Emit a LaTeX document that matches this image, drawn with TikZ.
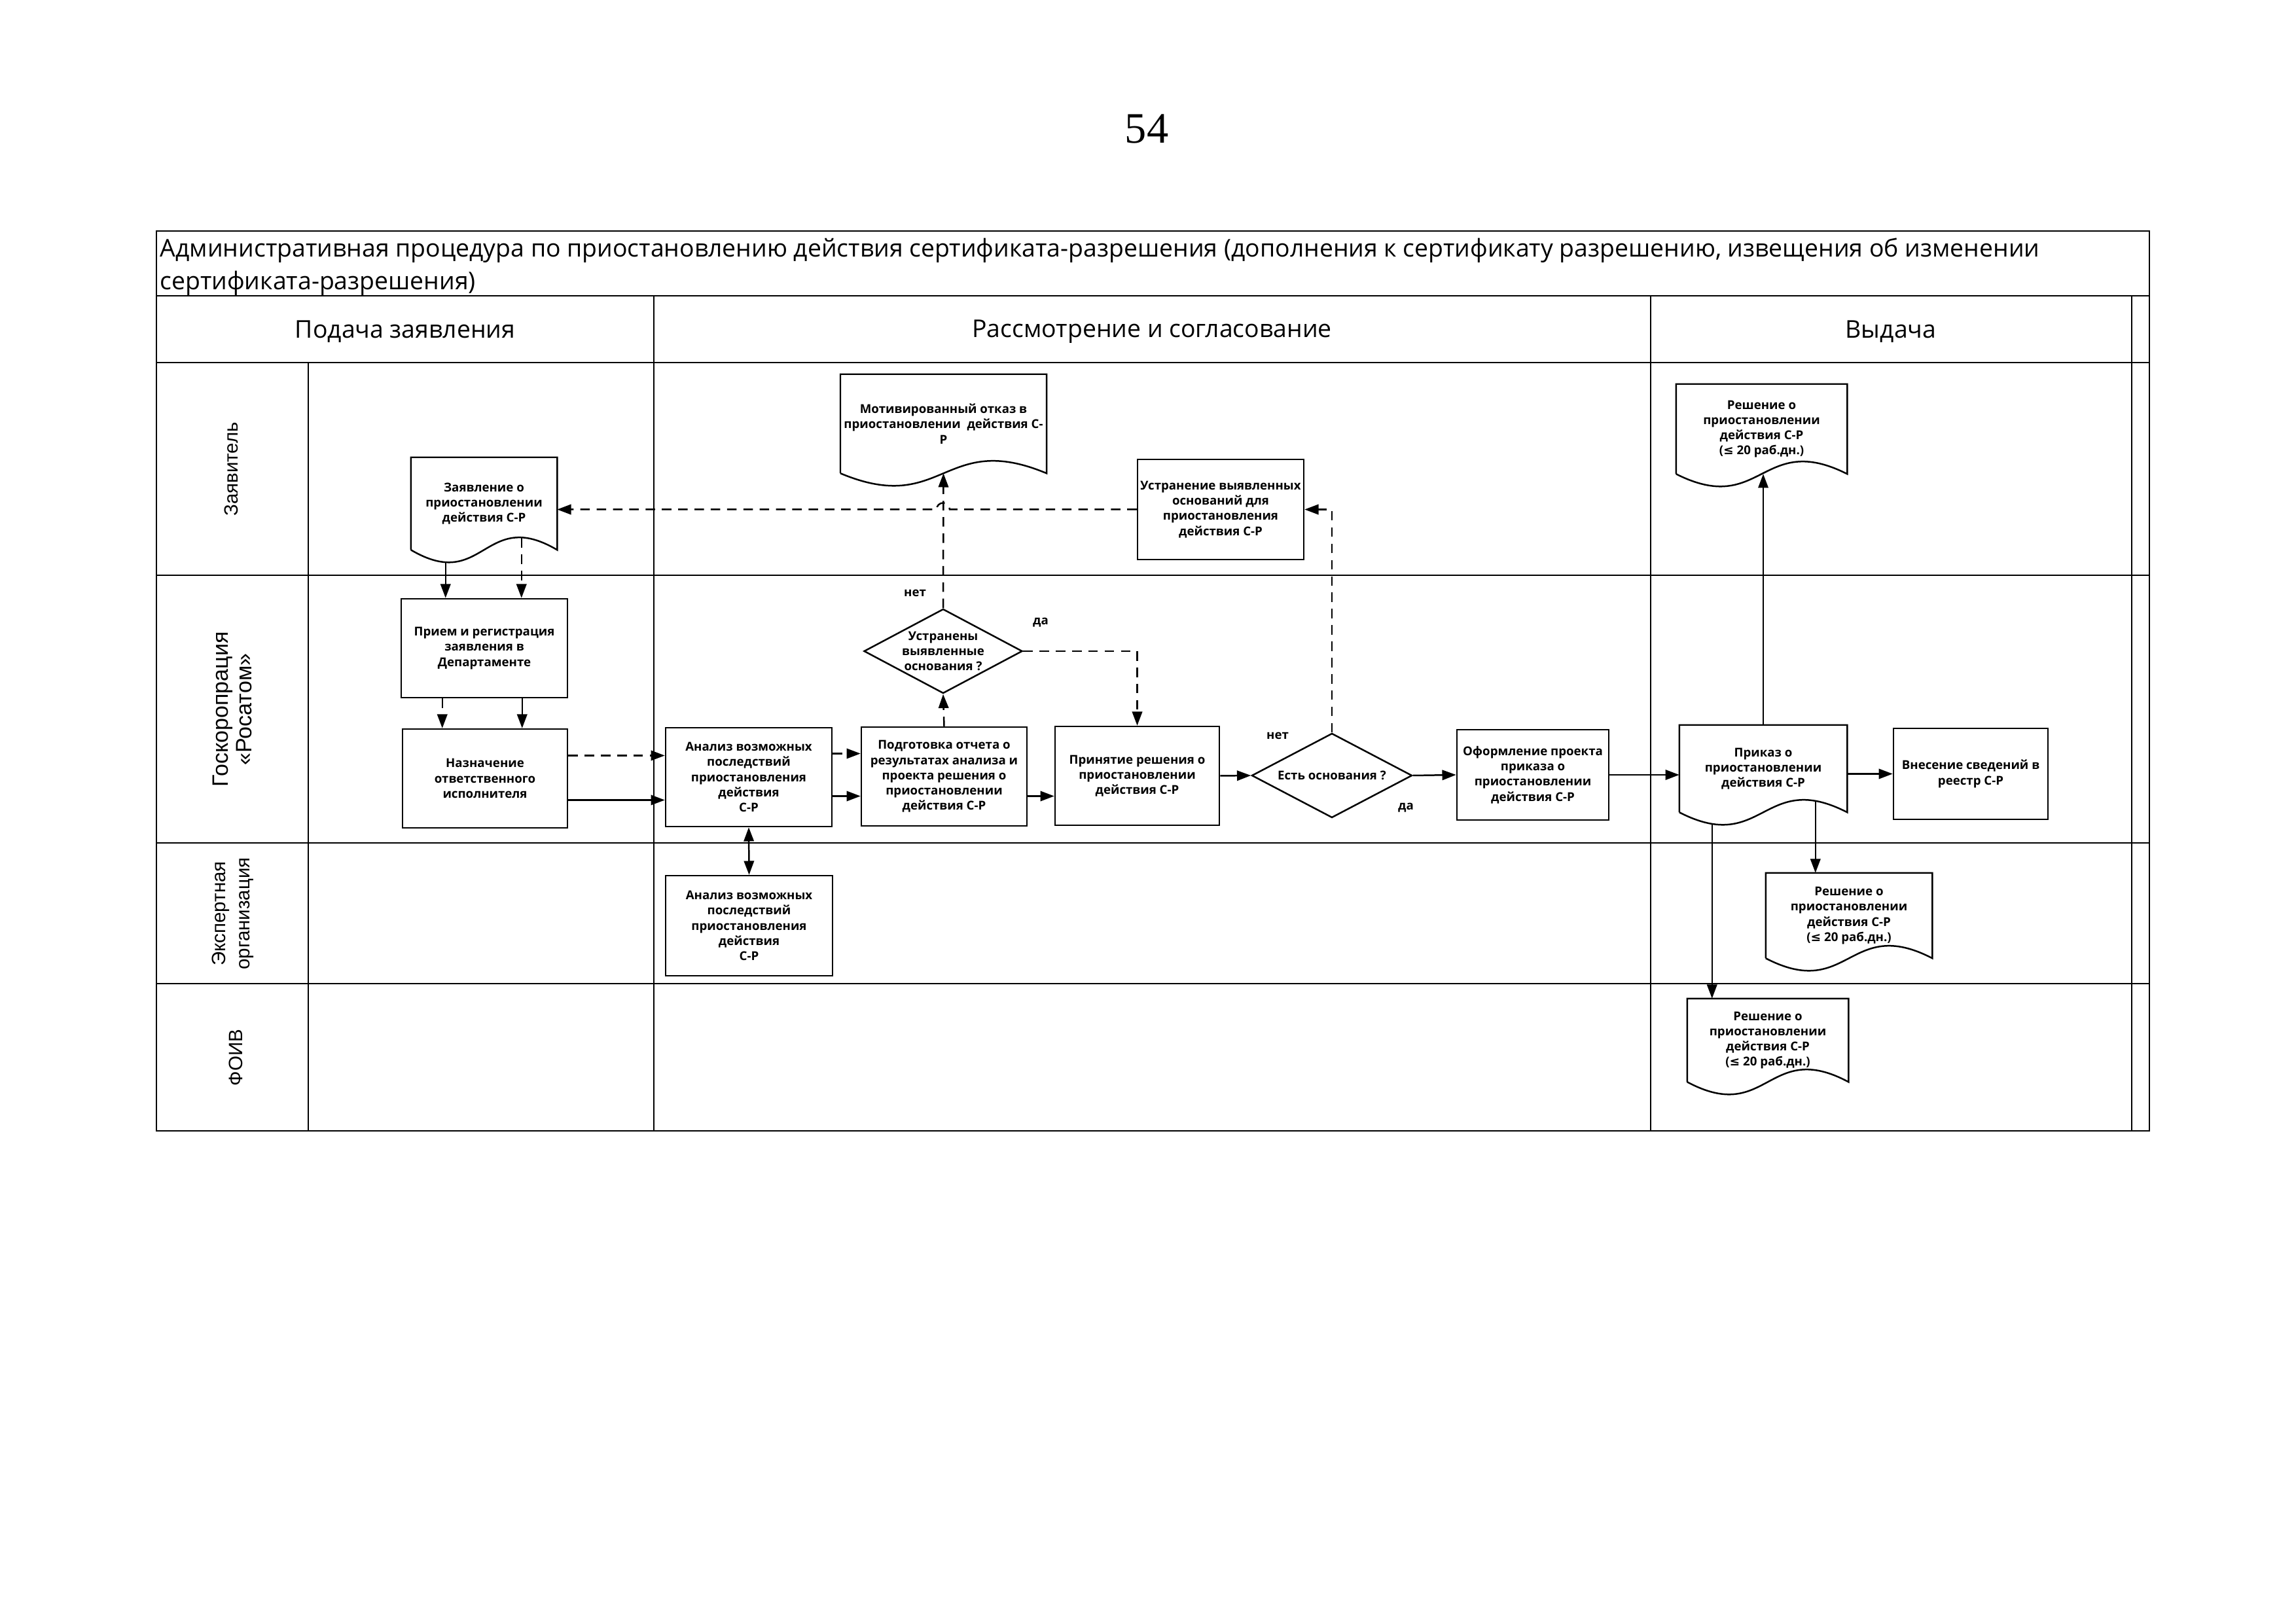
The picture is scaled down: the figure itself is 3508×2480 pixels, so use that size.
\documentclass[tikz,border=0pt]{standalone}
\usepackage{fontspec}
\setmainfont{Open Sans}
\newfontfamily\lanefont{Liberation Sans}
\newfontfamily\numfont{Liberation Serif}
\newfontfamily\symfont{DejaVu Sans}
\usetikzlibrary{arrows.meta,calc,shapes.geometric}

\tikzset{
  frame/.style={line width=0.7pt},
  thin line/.style={line width=0.35pt},
  wh/.style 2 args={minimum width=#1*0.08467mm, minimum height=#2*0.08467mm},
  box/.style={draw, line width=0.6pt, align=center, inner sep=1pt,
    font=\fontsize{4.5}{5.6}\selectfont\bfseries},
  docu/.style={box, draw=none},
  decision/.style={box, diamond, aspect=1.9, inner sep=0pt},
  note/.style={font=\fontsize{4.5}{5.6}\selectfont\bfseries},
  head/.style={font=\fontsize{9}{12}\selectfont},
  lanelabel/.style={rotate=90, align=center, font=\lanefont\fontsize{7.1}{9}\selectfont},
  tip/.tip={Triangle[length=1.8mm, width=1.3mm]},
  arr/.style={-tip, line width=0.6pt},
  dblarr/.style={tip-tip, line width=0.6pt},
  dsh/.style={dash pattern=on 3.5pt off 2.5pt},
}
\newcommand\docshape[1]{%
  \draw[line width=0.6pt] (#1.south west) -- (#1.north west) -- (#1.north east) -- (#1.south east)
  .. controls ($(#1.south west)!0.5!(#1.south east)+(0,-66)$)
  and ($(#1.south west)!0.5!(#1.south east)+(0,66)$) .. (#1.south west);}

\begin{document}
\begin{tikzpicture}[x=0.08467mm, y=-0.08467mm]
  \useasboundingbox (0,0) rectangle (3508,2480);
  \node[font=\numfont\fontsize{16}{18}\selectfont] (pg) at (1752,197) {54};

  % frame and lanes
  \draw[frame] (239,353) rectangle (3284,1728);
  \draw[frame] (239,452) -- (3284,452);
  \draw[frame] (239,554) -- (3284,554);
  \foreach \y in {879,1288,1503}
    \draw[frame] (239,\y) -- (3284,\y);
  \draw[frame] (471,554) -- (471,1728);
  \foreach \x in {999,2522,3257} {
    \draw[frame] (\x,452) -- (\x,554);
    \draw[thin line] (\x,554) -- (\x,1728);
  }

  \node[anchor=base west, inner sep=0pt, font=\fontsize{9}{12}\selectfont] (ttl) at (244,393)
    {Административная процедура по приостановлению действия сертификата-разрешения (дополнения к сертификату разрешению, извещения об изменении};
  \node[anchor=base west, inner sep=0pt, font=\fontsize{9}{12}\selectfont] (ttl2) at (244,443)
    {сертификата-разрешения)};
  \node[head] (h1) at (619,507) {Подача заявления};
  \node[head] (h2) at (1760,507) {Рассмотрение и согласование};
  \node[head] (h3) at (2889,507) {Выдача};

  \node[lanelabel] (l1) at (353,717) {Заявитель};
  \node[lanelabel, font=\lanefont\fontsize{8.2}{8.8}\selectfont] (l2) at (355,1084) {Госкоропрация\\«Росатом»};
  \node[lanelabel] (l3) at (356,1396) {Экспертная\\организация};
  \node[lanelabel] (l4) at (360,1616) {ФОИВ};

  % nodes
  \node[docu, wh={221}{139}] (zd) at (739.5,769.5) {Заявление о\\приостановлении\\действия С-Р};
  \docshape{zd}
  \node[box, wh={254}{151}] (pr) at (740,990.5) {Прием и регистрация\\заявления в\\Департаменте};
  \node[box, wh={252}{151}] (nz) at (741,1189.5) {Назначение\\ответственного\\исполнителя};
  \node[box, wh={254}{151}] (an) at (1144,1187.5) {Анализ возможных\\последствий\\приостановления\\действия\\С-Р};
  \node[box, wh={253}{151}] (pd) at (1442.5,1186.5) {Подготовка отчета о\\результатах анализа и\\проекта решения о\\приостановлении\\действия С-Р};
  \node[box, wh={251}{151}] (pn) at (1737.5,1185.5) {Принятие решения о\\приостановлении\\действия С-Р};
  \node[decision, wh={242}{129}] (d1) at (1441,995) {Устранены\\выявленные\\основания ?};
  \node[docu, wh={293}{149}] (mo) at (1441.5,647.5) {Мотивированный отказ в\\приостановлении\ \ действия С-\\Р};
  \docshape{mo}
  \node[box, wh={254}{153}] (us) at (1865,778.5) {Устранение выявленных\\оснований для\\приостановления\\действия С-Р};
  \node[decision, wh={245}{129}] (d2) at (2035,1185) {Есть основания ?};
  \node[box, wh={232}{138}] (of) at (2342,1184) {Оформление проекта\\приказа о\\приостановлении\\действия С-Р};
  \node[docu, wh={254}{131}] (pk) at (2694,1174.5) {Приказ о\\приостановлении\\действия С-Р};
  \docshape{pk}
  \node[box, wh={236}{139}] (vn) at (3011,1182.5) {Внесение сведений в\\реестр С-Р};
  \node[docu, wh={259}{135}] (r1) at (2691.5,655.5) {Решение о\\приостановлении\\действия С-Р\\({\symfont ≤} 20 раб.дн.)};
  \docshape{r1}
  \node[box, wh={255}{153}] (ae) at (1144.5,1414.5) {Анализ возможных\\последствий\\приостановления\\действия\\С-Р};
  \node[docu, wh={252}{128}] (r2) at (2825,1399) {Решение о\\приостановлении\\действия С-Р\\({\symfont ≤} 20 раб.дн.)};
  \docshape{r2}
  \node[docu, wh={244}{125}] (r3) at (2701,1589.5) {Решение о\\приостановлении\\действия С-Р\\({\symfont ≤} 20 раб.дн.)};
  \docshape{r3}

  \node[note] (no1) at (1398,906) {нет};
  \node[note] (yes1) at (1590,951) {да};
  \node[note] (no2) at (1952,1124) {нет};
  \node[note] (yes2) at (2148,1234) {да};

  % connectors
  \draw[arr] ($(zd.south west)+(53,20)$) -- ($(pr.north west)+(69,0)$);
  \draw[arr, dsh] ($(zd.south west)+(169,-18)$) -- ($(pr.north west)+(185,0)$);
  \draw[arr, dsh] ($(pr.south west)+(64,0)$) -- ($(nz.north west)+(62,0)$);
  \draw[arr] ($(pr.south west)+(186,0)$) -- ($(nz.north west)+(184,0)$);
  \draw[arr, dsh] ($(nz.east)+(0,-35)$) -- ($(an.west)+(0,-33)$);
  \draw[arr] ($(nz.east)+(0,33)$) -- ($(an.west)+(0,35)$);
  \draw[arr, dsh] ($(an.east)+(0,-36)$) -- ($(pd.west)+(0,-35)$);
  \draw[arr] ($(an.east)+(0,29)$) -- ($(pd.west)+(0,30)$);
  \draw[arr] ($(pd.east)+(0,30)$) -- ($(pn.west)+(0,31)$);
  \draw[arr, dsh] (pd.north) -- (d1.south);
  \draw[arr, dsh] (d1.north) -- (mo.south);
  \draw[arr, dsh] (d1.east) -| (pn.north);
  \draw[arr] (pn.east) -- (d2.west);
  \draw[arr, dsh] (d2.north) |- (us.east);
  \coordinate (hop) at (d1.north |- us.west);
  \draw[arr, dsh] (us.west) -- ($(hop)+(10,0)$) arc[start angle=0, end angle=180, radius=0.85mm]
    -- (zd.east |- us.west);
  \draw[arr] (d2.east) -- (of.west);
  \draw[arr] (of.east) -- (of.east -| pk.west);
  \draw[arr] (pk.east |- vn.west) -- (vn.west);
  \draw[arr] (pk.north) -- (pk.north |- r1.south);
  \draw[arr] ($(pk.south west)+(208,-17)$) coordinate (pk2) -- (pk2 |- r2.north);
  \draw[arr] ($(pk.south west)+(50,18)$) coordinate (pk3) -- (pk3 |- r3.north);
  \draw[dblarr] (an.south) -- (ae.north);

\end{tikzpicture}
\end{document}
